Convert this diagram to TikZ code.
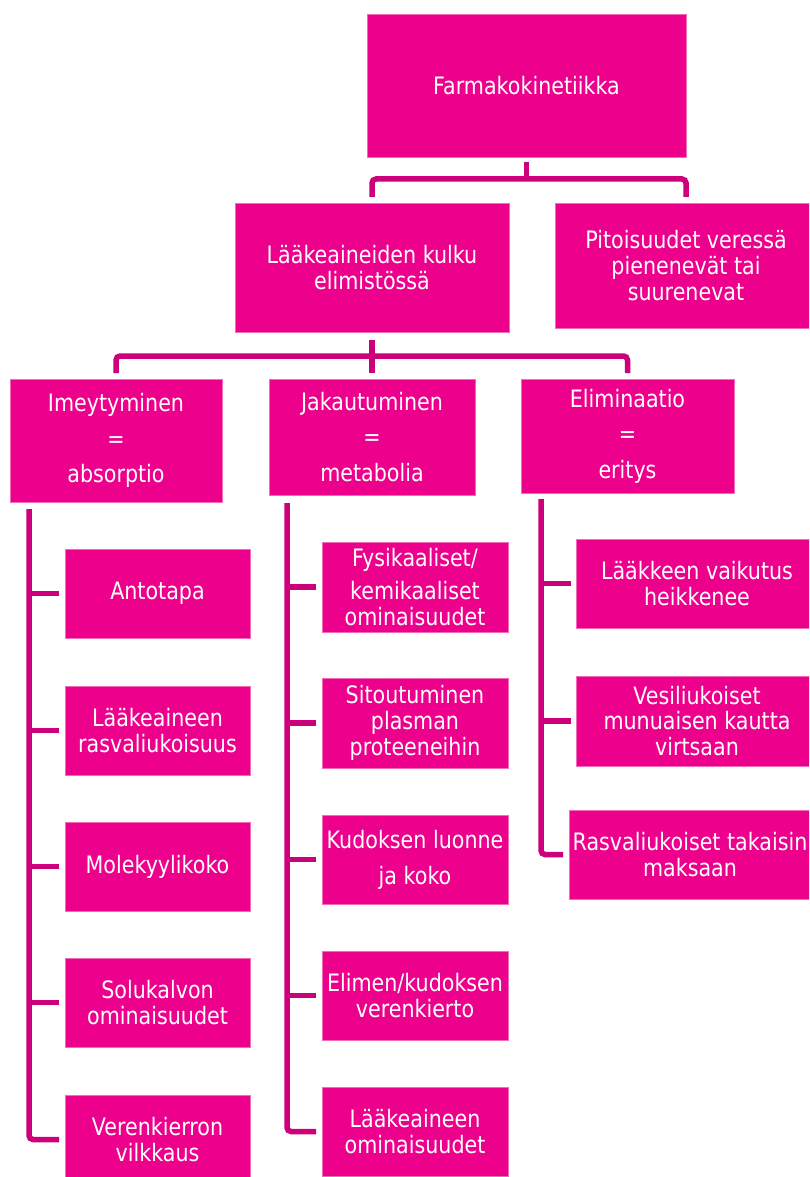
\documentclass[tikz,border=0pt]{standalone}
\usepackage{fontspec}
\setmainfont[FakeStretch=0.86]{DejaVu Sans}
\usetikzlibrary{calc}
\definecolor{boxfill}{HTML}{EC008C}
\definecolor{boxedge}{HTML}{F06CB8}
\definecolor{linkcol}{HTML}{CC007A}
\begin{document}
\begin{tikzpicture}[x=1pt,y=-1pt,
  box/.style={fill=boxfill,draw=boxedge,line width=0.8pt,inner sep=0pt,outer sep=0pt,
    text=white,align=center,font=\fontsize{24}{25.8}\selectfont},
  wide/.style={font=\fontsize{24}{35.5}\selectfont},
  conn/.style={draw=linkcol,line width=5.5pt},
  elbowlink/.style={conn,rounded corners=4pt}]
\useasboundingbox (0,0) rectangle (809,1177);
\clip (0,0) rectangle (809,1177);

% top levels
\node[box,minimum width=319pt,minimum height=143pt] (fk) at (526.5,85.5) {Farmakokinetiikka};
\node[box,minimum width=274pt,minimum height=129pt] (lk) at (372,267.5) {Lääkeaineiden kulku\\elimistössä};
\node[box,minimum width=262pt,minimum height=125pt] (pv) at (686,265.5) {Pitoisuudet veressä\\pienenevät tai\\suurenevat};

% three phases
\node[box,wide,minimum width=212pt,minimum height=123pt] (im) at (116,440.5) {Imeytyminen\\=\\absorptio};
\node[box,wide,minimum width=206pt,minimum height=116pt] (jk) at (372,437) {Jakautuminen\\=\\metabolia};
\node[box,wide,minimum width=213pt,minimum height=114pt] (el) at (627.5,436) {Eliminaatio\\=\\eritys};

% absorption factors
\node[box,minimum width=185pt,minimum height=89pt] (a1) at (157.5,593.5) {Antotapa};
\node[box,minimum width=185pt,minimum height=89pt] (a2) at (157.5,730.5) {Lääkeaineen\\rasvaliukoisuus};
\node[box,minimum width=185pt,minimum height=89pt] (a3) at (157.5,866.5) {Molekyylikoko};
\node[box,minimum width=185pt,minimum height=89pt] (a4) at (157.5,1002.5) {Solukalvon\\ominaisuudet};
\node[box,minimum width=185pt,minimum height=89pt] (a5) at (157.5,1139.5) {Verenkierron\\vilkkaus};

% distribution factors
\node[box,minimum width=186pt,minimum height=90pt] (b1) at (415,587) {Fysikaaliset/\\[8pt]kemikaaliset\\ominaisuudet};
\node[box,minimum width=186pt,minimum height=90pt] (b2) at (415,723) {Sitoutuminen\\plasman\\proteeneihin};
\node[box,minimum width=186pt,minimum height=89pt] (b3) at (415,859.5) {Kudoksen luonne\\[10pt]ja koko};
\node[box,minimum width=186pt,minimum height=89pt] (b4) at (415,995.5) {Elimen/kudoksen\\verenkierto};
\node[box,minimum width=186pt,minimum height=89pt] (b5) at (415,1131.5) {Lääkeaineen\\ominaisuudet};

% elimination factors
\node[box,minimum width=242pt,minimum height=89pt] (c1) at (697,583.5) {Lääkkeen vaikutus\\heikkenee};
\node[box,minimum width=242pt,minimum height=90pt] (c2) at (697,721) {Vesiliukoiset\\munuaisen kautta\\virtsaan};
\node[box,minimum width=242pt,minimum height=89pt] (c3) at (690,854.5) {Rasvaliukoiset takaisin\\maksaan};

% first bracket
\coordinate (t1) at (526.5,179);
\draw[conn] ([yshift=-5pt]fk.south) -- (t1);
\draw[elbowlink] ([yshift=6pt]lk.north) |- (t1) -| ([yshift=6pt]pv.north);

% second bracket
\coordinate (t2) at (372,356);
\draw[conn] ([yshift=-8pt]lk.south) -- ([yshift=6pt]jk.north);
\draw[elbowlink] ([yshift=6pt]im.north) |- (t2) -| ([yshift=6pt]el.north);

% left spine
\coordinate (sl) at (29,509);
\draw[elbowlink] (sl) |- ([xshift=-6pt]a5.west);
\foreach \n in {a1,a2,a3,a4}
  \draw[conn] ([xshift=-6pt]\n.west) -- (\n.west -| sl);

% middle spine
\coordinate (sm) at (287,503);
\draw[elbowlink] (sm) |- ([xshift=-6pt]b5.west);
\foreach \n in {b1,b2,b3,b4}
  \draw[conn] ([xshift=-6pt]\n.west) -- (\n.west -| sm);

% right spine
\coordinate (sr) at (541,499);
\draw[elbowlink] (sr) |- ([xshift=-6pt]c3.west);
\foreach \n in {c1,c2}
  \draw[conn] ([xshift=-5pt]\n.west) -- (\n.west -| sr);
\end{tikzpicture}
\end{document}
